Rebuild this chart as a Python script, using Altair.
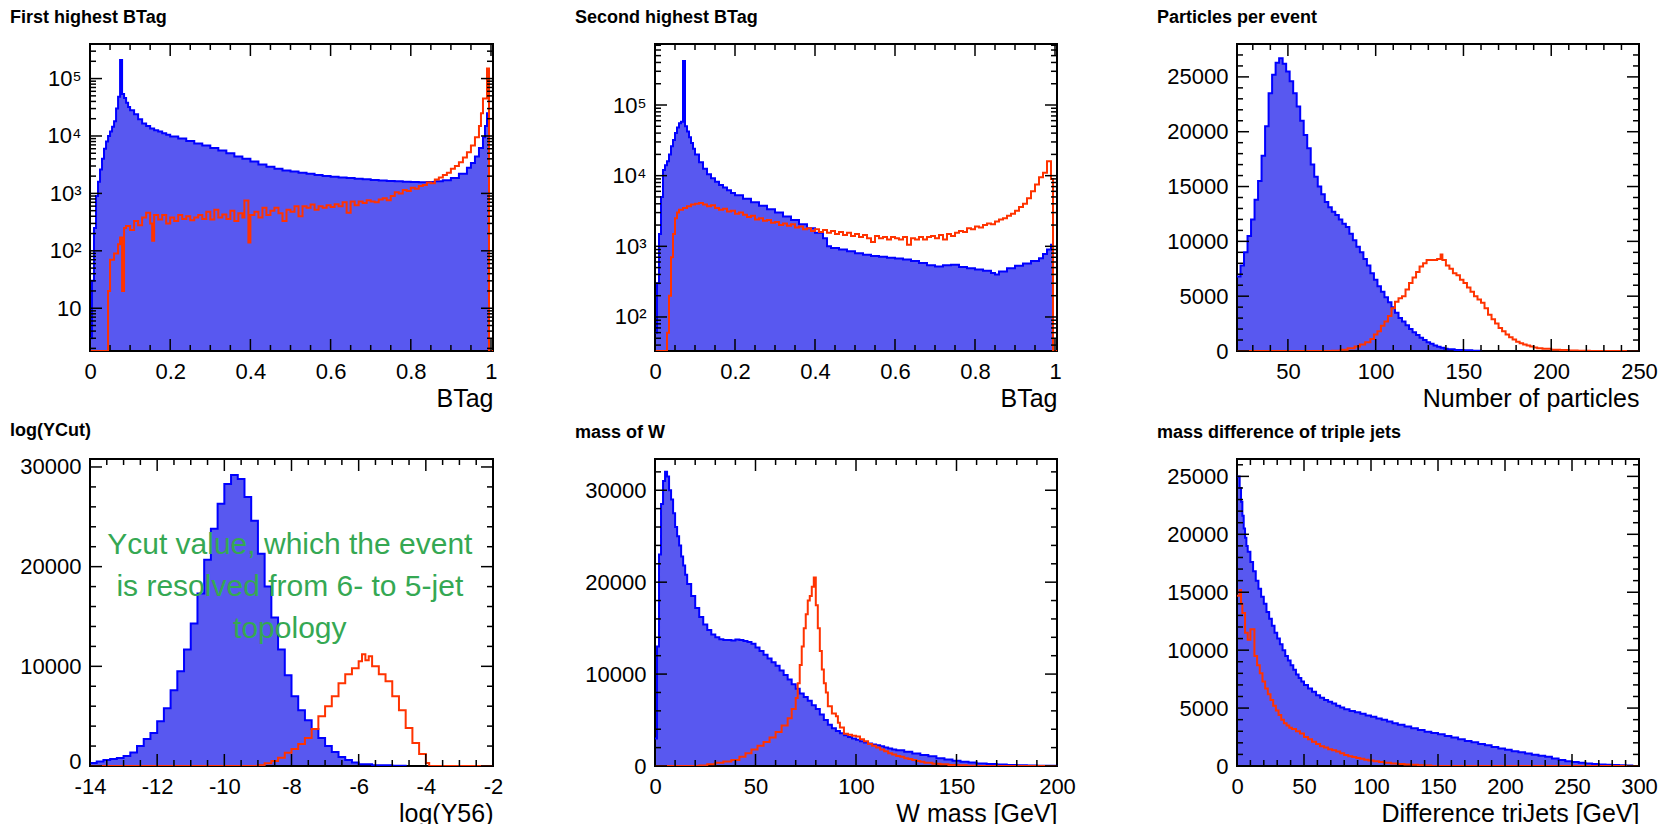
import altair as alt
import pandas as pd

H = 307
FONT = "Liberation Sans"
LINE_BLUE = "#0000ff"
FILL_BLUE = "#5858f0"
RED = "#ff3300"
GREEN = "#35a853"
MAJ, MIN = 12, 6

# ---------------- Panel 1 : First highest BTag (log y) ----------------
p1_blue_x = [0, 0.005, 0.01, 0.015, 0.02, 0.025, 0.03, 0.035, 0.04, 0.045, 0.05, 0.055, 0.06, 0.065,
             0.07, 0.075, 0.08, 0.085, 0.09, 0.095, 0.10, 0.11, 0.12, 0.13, 0.14, 0.15, 0.16, 0.17,
             0.18, 0.19, 0.20, 0.22, 0.24, 0.26, 0.28, 0.30, 0.32, 0.34, 0.36, 0.38, 0.40, 0.42,
             0.44, 0.46, 0.48, 0.50, 0.52, 0.54, 0.56, 0.58, 0.60, 0.62, 0.64, 0.66, 0.68, 0.70,
             0.72, 0.74, 0.76, 0.78, 0.80, 0.82, 0.84, 0.86, 0.88, 0.90, 0.92, 0.94, 0.95, 0.96,
             0.97, 0.98, 0.985, 0.99, 0.995]
p1_blue_y = [3, 30, 250, 900, 1600, 2600, 4000, 6000, 8000, 10000, 12000, 14500, 18000, 30000,
             48000, 210000, 54000, 46000, 38000, 32000, 28000, 24000, 19500, 16500, 15000, 13500,
             12600, 12000, 11200, 10500, 9800, 9000, 8200, 7400, 6800, 6200, 5600, 5000, 4400,
             4000, 3600, 3200, 2900, 2700, 2500, 2400, 2300, 2200, 2100, 2000, 1950, 1900, 1850,
             1800, 1760, 1720, 1680, 1650, 1620, 1600, 1580, 1560, 1580, 1620, 1700, 1850, 2200,
             2800, 3400, 4400, 6200, 9500, 15000, 25000, 0]
p1_red_x = [0, 0.045, 0.05, 0.06, 0.07, 0.075, 0.08, 0.085, 0.09, 0.10, 0.11, 0.12, 0.13, 0.14,
            0.15, 0.155, 0.16, 0.17, 0.18, 0.19, 0.20, 0.21, 0.22, 0.23, 0.24, 0.25, 0.26, 0.27,
            0.28, 0.29, 0.30, 0.31, 0.32, 0.33, 0.34, 0.35, 0.36, 0.37, 0.38, 0.385, 0.395, 0.40,
            0.41, 0.42, 0.43, 0.44, 0.45, 0.46, 0.47, 0.48, 0.49, 0.50, 0.51, 0.52, 0.53, 0.54,
            0.55, 0.56, 0.57, 0.58, 0.59, 0.60, 0.61, 0.62, 0.63, 0.64, 0.65, 0.66, 0.67, 0.68,
            0.69, 0.70, 0.71, 0.72, 0.73, 0.74, 0.75, 0.76, 0.77, 0.78, 0.79, 0.80, 0.81, 0.82,
            0.83, 0.84, 0.85, 0.86, 0.87, 0.88, 0.89, 0.90, 0.91, 0.92, 0.93, 0.94, 0.95, 0.96,
            0.97, 0.975, 0.98, 0.99, 0.995, 1.005]
p1_red_y = [0, 20, 70, 90, 130, 170, 20, 250, 270, 230, 330, 280, 380, 460,
            300, 150, 420, 350, 420, 300, 380, 330, 420, 360, 400, 340, 380, 420,
            360, 480, 350, 520, 380, 430, 360, 500, 330, 450, 380, 750, 140, 420,
            480, 380, 560, 420, 500, 560, 450, 330, 520, 480, 600, 400, 600, 560,
            640, 520, 600, 560, 620, 580, 650, 600, 700, 460, 720, 620, 720, 680,
            760, 720, 700, 780, 820, 760, 900, 1050, 1000, 1150, 1100, 1250, 1200, 1350,
            1400, 1550, 1500, 1750, 1900, 2100, 2300, 2700, 3000, 3500, 4200, 5200, 6800, 9500,
            15000, 25000, 45000, 150000, 0, 0]

# ---------------- Panel 2 : Second highest BTag (log y) ----------------
p2_blue_x = [0, 0.005, 0.01, 0.015, 0.02, 0.025, 0.03, 0.035, 0.04, 0.045, 0.05, 0.055, 0.06, 0.065,
             0.07, 0.075, 0.08, 0.085, 0.09, 0.095, 0.10, 0.11, 0.12, 0.13, 0.14, 0.15, 0.16, 0.17,
             0.18, 0.19, 0.20, 0.22, 0.24, 0.26, 0.28, 0.30, 0.32, 0.34, 0.36, 0.38, 0.40, 0.42,
             0.43, 0.44, 0.46, 0.48, 0.50, 0.52, 0.54, 0.56, 0.58, 0.60, 0.62, 0.64, 0.66, 0.68,
             0.70, 0.72, 0.74, 0.76, 0.78, 0.80, 0.82, 0.84, 0.85, 0.86, 0.88, 0.90, 0.92, 0.94,
             0.96, 0.97, 0.98, 0.99, 0.995]
p2_blue_y = [60, 300, 1500, 5000, 12000, 14000, 16000, 20000, 26000, 32000, 40000, 48000, 55000,
             58000, 420000, 50000, 42000, 35000, 29000, 24000, 20000, 15500, 12500, 10500, 9200,
             8200, 7400, 6800, 6200, 5700, 5300, 4700, 4200, 3750, 3350, 3000, 2650, 2350, 2050,
             1800, 1550, 1300, 1000, 950, 900, 850, 800, 760, 730, 710, 690, 670, 650, 620, 580,
             540, 520, 540, 550, 510, 490, 470, 450, 420, 400, 440, 490, 530, 570, 620, 680, 780,
             900, 1050, 0]
p2_red_x = [0, 0.03, 0.035, 0.04, 0.045, 0.05, 0.055, 0.06, 0.07, 0.08, 0.09, 0.10, 0.11, 0.12,
            0.13, 0.14, 0.15, 0.16, 0.17, 0.18, 0.19, 0.20, 0.21, 0.22, 0.23, 0.24, 0.25, 0.26,
            0.27, 0.28, 0.29, 0.30, 0.31, 0.32, 0.33, 0.34, 0.35, 0.36, 0.37, 0.38, 0.39, 0.40,
            0.41, 0.42, 0.43, 0.44, 0.45, 0.46, 0.47, 0.48, 0.49, 0.50, 0.51, 0.52, 0.53, 0.54,
            0.55, 0.56, 0.57, 0.58, 0.59, 0.60, 0.61, 0.62, 0.63, 0.64, 0.65, 0.66, 0.67, 0.68,
            0.69, 0.70, 0.71, 0.72, 0.73, 0.74, 0.75, 0.76, 0.77, 0.78, 0.79, 0.80, 0.81, 0.82,
            0.83, 0.84, 0.85, 0.86, 0.87, 0.88, 0.89, 0.90, 0.91, 0.92, 0.93, 0.94, 0.95, 0.96,
            0.97, 0.98, 0.99, 0.995, 1.005]
p2_red_y = [0, 60, 200, 700, 1500, 2500, 3000, 3300, 3500, 3700, 3900, 4000, 4100, 3900,
            3700, 3800, 3500, 3300, 3400, 3100, 3200, 2900, 3000, 2800, 2600, 2700, 2400, 2500,
            2300, 2350, 2150, 2200, 2000, 2100, 1950, 2050, 1850, 1900, 1750, 1800, 1650, 1750,
            1600, 1700, 1550, 1650, 1500, 1600, 1450, 1550, 1400, 1500, 1350, 1450, 1300, 1150,
            1400, 1300, 1350, 1250, 1350, 1300, 1250, 1350, 1050, 1300, 1250, 1350, 1250, 1350,
            1400, 1300, 1450, 1250, 1500, 1400, 1550, 1650, 1600, 1800, 1750, 1900, 1850, 2000,
            2100, 2050, 2250, 2400, 2500, 2700, 2900, 3200, 3600, 4000, 4800, 6000, 7500, 9500,
            11000, 16000, 9000, 0, 0]

# ---------------- Panel 3 : Particles per event ----------------
p3_blue_x = [21, 23, 25, 27, 29, 31, 33, 35, 37, 39, 41, 43, 45, 47, 49, 51, 53, 55, 57, 59, 61,
             63, 65, 67, 69, 71, 73, 75, 77, 79, 81, 83, 85, 87, 89, 91, 93, 95, 97, 99, 101,
             103, 105, 107, 109, 111, 113, 115, 117, 119, 121, 123, 125, 127, 129, 131, 133,
             135, 137, 139, 141, 145, 150, 155, 160]
p3_blue_y = [6800, 7800, 9000, 10500, 12000, 13800, 15500, 17800, 20500, 23500, 25200, 26300,
             26700, 26200, 25500, 24600, 23500, 22300, 21000, 19700, 18500, 17000, 15900, 15000,
             14300, 13600, 13100, 12700, 12400, 12000, 11600, 11300, 10700, 10100, 9500, 9000,
             8400, 7800, 7100, 6500, 5900, 5400, 4900, 4450, 4000, 3500, 3000, 2700, 2350, 2000,
             1700, 1450, 1200, 1000, 800, 650, 500, 380, 290, 210, 150, 100, 60, 30, 0]
p3_red_x = [21, 75, 80, 84, 88, 91, 94, 97, 99, 101, 103, 105, 107, 109, 111, 113, 115, 117, 119,
            121, 123, 125, 127, 129, 131, 133, 135, 137, 138, 140, 142, 144, 146, 148, 150, 152,
            154, 156, 158, 160, 162, 164, 166, 168, 170, 172, 174, 176, 178, 180, 182, 184, 186,
            188, 190, 192, 195, 200, 205, 210, 215, 222, 250]
p3_red_y = [0, 30, 120, 250, 400, 600, 800, 1100, 1500, 1800, 2300, 2700, 3200, 3900, 4500, 4800,
            5000, 5600, 6200, 6700, 7200, 7700, 8000, 8300, 8300, 8300, 8400, 8800, 8300, 7800,
            7500, 7100, 6900, 6500, 6200, 5800, 5400, 5000, 4700, 4400, 3900, 3300, 2900, 2500,
            2100, 1800, 1500, 1250, 1050, 850, 700, 600, 500, 400, 330, 260, 200, 120, 80, 50,
            30, 0, 0]

# ---------------- Panel 4 : log(YCut) ----------------
p4_blue_x = [-14, -13.8, -13.6, -13.4, -13.2, -13.0, -12.8, -12.6, -12.4, -12.2, -12.0, -11.8,
             -11.6, -11.4, -11.2, -11.0, -10.8, -10.6, -10.4, -10.2, -10.0, -9.8, -9.6, -9.4,
             -9.2, -9.0, -8.8, -8.6, -8.4, -8.2, -8.0, -7.8, -7.6, -7.4, -7.2, -7.0, -6.8, -6.6,
             -6.4, -6.2, -6.0, -5.6, -5.0, -4.6]
p4_blue_y = [300, 450, 600, 700, 800, 1000, 1350, 2000, 2700, 3300, 4500, 5800, 7600, 9500, 11700,
             14300, 17300, 20700, 23800, 26300, 28300, 29200, 28800, 27000, 24600, 21300, 18000,
             14900, 11700, 9100, 7000, 5600, 4600, 3700, 2800, 2000, 1400, 900, 600, 350, 180, 80,
             30, 0]
p4_red_x = [-14, -9.0, -8.8, -8.6, -8.4, -8.2, -8.0, -7.8, -7.6, -7.4, -7.2, -7.0, -6.8, -6.6,
            -6.4, -6.2, -6.0, -5.9, -5.8, -5.7, -5.6, -5.4, -5.2, -5.0, -4.8, -4.6, -4.4, -4.2,
            -4.0, -3.9, -2.0]
p4_red_y = [0, 70, 270, 500, 830, 1330, 1700, 2200, 2800, 3700, 5000, 6000, 7000, 8300, 9200,
            9800, 10500, 11200, 10600, 11000, 10000, 9200, 8500, 7000, 5600, 3800, 2300, 1200,
            300, 0, 0]
p4_note_lines = ["Ycut value, which the event", "is resolved from 6- to 5-jet", "topology"]
p4_note_x = [-8.05, -8.05, -8.05]
p4_note_y = [22150, 17950, 13750]

# ---------------- Panel 5 : mass of W ----------------
p5_blue_x = [0, 1, 2, 3, 4, 5, 6, 7, 8, 9, 10, 11, 12, 13, 14, 15, 16, 18, 20, 22, 24, 26, 28, 30,
             32, 34, 36, 38, 40, 42, 44, 46, 48, 50, 52, 54, 56, 58, 60, 62, 64, 66, 68, 70, 72,
             74, 76, 78, 80, 82, 84, 86, 88, 90, 92, 94, 96, 98, 100, 102, 104, 106, 108, 110,
             112, 114, 116, 118, 120, 124, 128, 132, 136, 140, 144, 148, 152, 156, 160, 165, 170,
             175, 180, 185, 190, 195, 200]
p5_blue_y = [3000, 13000, 23000, 28500, 31000, 32000, 31500, 30000, 29000, 27500, 26000, 25000,
             24000, 22800, 21800, 20800, 19800, 18500, 17200, 16200, 15400, 14800, 14300, 14000,
             13800, 13700, 13700, 13650, 13750, 13700, 13600, 13500, 13300, 12900, 12500, 12100,
             11700, 11300, 10900, 10400, 9900, 9400, 8900, 8400, 7900, 7500, 7100, 6600, 6200,
             5600, 5000, 4500, 4100, 3800, 3550, 3350, 3150, 3000, 2850, 2700, 2550, 2450, 2350,
             2250, 2150, 2000, 1900, 1800, 1700, 1550, 1350, 1200, 1050, 850, 700, 580, 470, 380,
             280, 220, 160, 110, 80, 60, 40, 20, 0]
p5_red_x = [0, 22, 26, 30, 34, 38, 42, 45, 48, 51, 54, 57, 60, 63, 66, 68, 70, 71, 72, 73, 74, 75,
            76, 77, 78, 79, 80, 81, 82, 83, 84, 85, 86, 88, 90, 91, 92, 94, 96, 98, 100, 102,
            104, 106, 108, 110, 112, 114, 116, 118, 120, 122, 124, 126, 128, 130, 132, 134, 138,
            142, 146, 150, 155, 160, 200]
p5_red_y = [0, 60, 200, 350, 500, 650, 1000, 1400, 1800, 2200, 2600, 3100, 3700, 4400, 5200,
            6200, 7400, 9000, 11000, 13000, 15000, 16500, 18000, 18500, 19500, 20500, 17500,
            15000, 12500, 10500, 9000, 8000, 6500, 5700, 5400, 4700, 4200, 3500, 3400, 3300, 3200,
            2900, 2700, 2400, 2200, 2000, 1800, 1600, 1400, 1250, 1100, 1000, 850, 750, 650, 550,
            450, 350, 250, 180, 120, 80, 40, 0, 0]

# ---------------- Panel 6 : mass difference of triple jets ----------------
p6_blue_x = [0, 2, 3, 4, 5, 6, 7, 8, 10, 12, 14, 16, 18, 20, 22, 24, 26, 28, 30, 32, 34, 36, 38,
             40, 42, 44, 46, 48, 50, 53, 56, 59, 62, 65, 68, 71, 74, 77, 80, 84, 88, 92, 96, 100,
             104, 108, 112, 116, 120, 125, 130, 135, 140, 145, 150, 155, 160, 165, 170, 175, 180,
             185, 190, 195, 200, 205, 210, 215, 220, 225, 230, 235, 240, 245, 250, 255, 260, 265,
             270, 275, 280, 285, 290, 295]
p6_blue_y = [25000, 24000, 22800, 21600, 20500, 19700, 19000, 18500, 17600, 16800, 16000, 15300,
             14600, 14000, 13300, 12700, 12100, 11500, 11000, 10500, 10000, 9500, 9100, 8700,
             8300, 7900, 7600, 7300, 7000, 6700, 6400, 6100, 5900, 5700, 5550, 5400, 5200, 5050,
             4900, 4750, 4650, 4500, 4350, 4250, 4100, 4000, 3850, 3700, 3550, 3400, 3250, 3100,
             2950, 2850, 2750, 2600, 2450, 2300, 2150, 2050, 1900, 1800, 1650, 1500, 1400, 1280,
             1180, 1080, 980, 880, 800, 650, 520, 420, 350, 280, 220, 170, 130, 100, 80, 60, 40, 0]
p6_red_x = [0, 2, 3, 4, 6, 8, 10, 13, 15, 17, 19, 21, 23, 25, 27, 29, 31, 33, 35, 37, 39, 41, 44,
            47, 50, 53, 56, 59, 62, 65, 68, 71, 74, 77, 80, 83, 86, 89, 92, 95, 98, 102, 106,
            110, 115, 120, 125, 130, 135, 140, 145, 300]
p6_red_y = [14700, 15200, 14000, 13200, 11500, 10900, 11800, 9500, 8700, 8000, 7300, 6700, 6200,
            5700, 5200, 4800, 4400, 4000, 3700, 3500, 3300, 3200, 3000, 2800, 2500, 2300, 2100,
            1900, 1700, 1600, 1450, 1350, 1250, 1100, 950, 850, 780, 700, 620, 550, 480, 400,
            340, 280, 220, 170, 130, 100, 70, 40, 0, 0]

# ---------------- tick positions ----------------
btag_major = [0, 0.2, 0.4, 0.6, 0.8, 1]
btag_minor = [round(0.05 * i, 2) for i in range(21) if i % 4 != 0]
p1_ymajor = [10, 100, 1000, 10000, 100000]
p1_yminor = [k * 10 ** d for d in range(0, 6) for k in range(2, 10) if 1.8 <= k * 10 ** d <= 4.0e5]
p2_ymajor = [100, 1000, 10000, 100000]
p2_yminor = [k * 10 ** d for d in range(1, 6) for k in range(2, 10) if 33 <= k * 10 ** d <= 7.3e5]
p3_xmajor = [50, 100, 150, 200, 250]
p3_xminor = [v for v in range(30, 250, 10) if v % 50 != 0]
p3_ymajor = [0, 5000, 10000, 15000, 20000, 25000]
p3_yminor = [v for v in range(1000, 28001, 1000) if v % 5000 != 0]
p4_xmajor = [-14, -12, -10, -8, -6, -4, -2]
p4_xminor = [-14 + 0.5 * i for i in range(25) if i % 4 != 0]
p4_ymajor = [0, 10000, 20000, 30000]
p4_yminor = [v for v in range(2000, 30801, 2000) if v % 10000 != 0]
p5_xmajor = [0, 50, 100, 150, 200]
p5_xminor = [v for v in range(10, 200, 10) if v % 50 != 0]
p5_ymajor = [0, 10000, 20000, 30000]
p5_yminor = [v for v in range(2000, 33401, 2000) if v % 10000 != 0]
p6_xmajor = [0, 50, 100, 150, 200, 250, 300]
p6_xminor = [v for v in range(10, 300, 10) if v % 50 != 0]
p6_ymajor = [0, 5000, 10000, 15000, 20000, 25000]
p6_yminor = [v for v in range(1000, 26501, 1000) if v % 5000 != 0]

PLAIN = "'' + datum.value"
LOGLAB = ("datum.value == 10 ? '10' : datum.value == 100 ? '10\u00b2' : datum.value == 1000 ? '10\u00b3' : "
          "datum.value == 10000 ? '10\u2074' : '10\u2075'")


def panel(title, xtitle, xdom, ydom, ylog, bx, by, rx, ry, xmaj, xmin, ymaj, ymin, ylab,
          fw, vw, extra_df=None, zero_lift=0):
    floor = ydom[0] if ylog else 0
    xs = alt.Scale(domain=xdom, nice=False, zero=False, range=[0, fw])
    if ylog:
        ys = alt.Scale(type="log", domain=ydom, nice=False)
    else:
        ys = alt.Scale(domain=ydom, nice=False, zero=False)
    xaxis = alt.Axis(values=xmaj, labelExpr=PLAIN, title=xtitle, ticks=False, tickSize=0,
                     domain=False, grid=False, labelFont=FONT, labelFontSize=22, labelColor="black",
                     labelPadding=10, labelFlush=False, labelOverlap=False,
                     titleFont=FONT, titleFontSize=25, titleFontWeight="normal", titleColor="black",
                     titleAnchor="end", titleBaseline="alphabetic", titleY=55)
    yaxis_kw = dict(values=ymaj, labelExpr=ylab, title=None, ticks=False,
                    domain=False, grid=False, labelFont=FONT, labelFontSize=22, labelColor="black",
                    labelPadding=9, labelFlush=False, labelOverlap=False)
    if zero_lift:
        yaxis_kw["labelOffset"] = {"condition": {"test": "datum.value == 0", "value": -zero_lift},
                                   "value": 0}
    yaxis = alt.Axis(**yaxis_kw)

    def X():
        return alt.X("x:Q", scale=xs, axis=xaxis)

    def Y():
        return alt.Y("y:Q", scale=ys, axis=yaxis)

    blue = pd.DataFrame({"x": bx, "y": [max(v, floor) for v in by], "b": [floor] * len(bx)})
    red = pd.DataFrame({"x": rx, "y": [max(v, floor) for v in ry]})
    frame = alt.Chart(pd.DataFrame({"f": [0]})).mark_rect(
        filled=False, stroke="black", strokeWidth=2
    ).encode(x=alt.value(0), x2=alt.value(fw), y=alt.value(0), y2=alt.value(H))
    enc = dict(x=X(), y=Y())
    if ylog:
        enc["y2"] = alt.Y2("b:Q")
    area = alt.Chart(blue).mark_area(interpolate="step-after", color=FILL_BLUE, clip=True).encode(**enc)
    bline = alt.Chart(blue).mark_line(interpolate="step-after", color=LINE_BLUE, strokeWidth=2,
                                      clip=True).encode(x=X(), y=Y())
    rline = alt.Chart(red).mark_line(interpolate="step-after", color=RED, strokeWidth=2,
                                     clip=True).encode(x=X(), y=Y())
    layers = [area, frame, bline, rline]
    for vals, ln in ((xmaj, MAJ), (xmin, MIN)):
        base = alt.Chart(pd.DataFrame({"x": vals})).mark_rule(color="black", strokeWidth=1.5)
        layers.append(base.encode(x=X(), y=alt.value(H), y2=alt.value(H - ln)))
        layers.append(base.encode(x=X(), y=alt.value(0), y2=alt.value(ln)))
    for vals, ln in ((ymaj, MAJ), (ymin, MIN)):
        base = alt.Chart(pd.DataFrame({"y": vals})).mark_rule(color="black", strokeWidth=1.5)
        layers.append(base.encode(y=Y(), x=alt.value(0), x2=alt.value(ln)))
        layers.append(base.encode(y=Y(), x=alt.value(fw), x2=alt.value(fw - ln)))
    if extra_df is not None:
        layers.append(alt.Chart(extra_df).mark_text(
            font=FONT, fontSize=30, color=GREEN, align="center", baseline="middle"
        ).encode(x=X(), y=Y(), text="t:N"))
    return alt.layer(*layers).properties(
        width=vw, height=H,
        title=alt.TitleParams(text=title, anchor="start", frame="group", dx=-80, offset=16,
                              fontSize=18, fontWeight="bold", font=FONT, color="black"))


note_df = pd.DataFrame({"x": p4_note_x, "y": p4_note_y, "t": p4_note_lines})

c1 = panel("First highest BTag", "BTag", [0, 1.005], [1.8, 4.0e5], True, p1_blue_x, p1_blue_y,
           p1_red_x, p1_red_y, btag_major, btag_minor, p1_ymajor, p1_yminor, LOGLAB, 403, 403)
c2 = panel("Second highest BTag", "BTag", [0, 1.005], [33, 7.3e5], True, p2_blue_x, p2_blue_y,
           p2_red_x, p2_red_y, btag_major, btag_minor, p2_ymajor, p2_yminor, LOGLAB, 402, 420)
c3 = panel("Particles per event", "Number of particles", [21, 250], [0, 28000], False, p3_blue_x,
           p3_blue_y, p3_red_x, p3_red_y, p3_xmajor, p3_xminor, p3_ymajor, p3_yminor, PLAIN, 402, 402)
c4 = panel("log(YCut)", "log(Y56)", [-14, -2], [0, 30800], False, p4_blue_x, p4_blue_y,
           p4_red_x, p4_red_y, p4_xmajor, p4_xminor, p4_ymajor, p4_yminor, PLAIN, 403, 403,
           extra_df=note_df, zero_lift=5)
c5 = panel("mass of W", "W mass [GeV]", [0, 200], [0, 33400], False, p5_blue_x, p5_blue_y,
           p5_red_x, p5_red_y, p5_xmajor, p5_xminor, p5_ymajor, p5_yminor, PLAIN, 402, 420)
c6 = panel("mass difference of triple jets", "Difference triJets [GeV]", [0, 300], [0, 26500], False,
           p6_blue_x, p6_blue_y, p6_red_x, p6_red_y, p6_xmajor, p6_xminor, p6_ymajor, p6_yminor,
           PLAIN, 402, 402)

chart = alt.concat(
    c1, c2, c3, c4, c5, c6, columns=3,
    spacing=alt.RowColnumber(row=108, column=162), bounds="flush", align="each",
).properties(
    padding={"left": 10, "top": 9, "right": 0, "bottom": 0},
    background="white",
).configure_view(stroke=None)

chart.save("out.html", embed_options={"renderer": "svg", "actions": False})
